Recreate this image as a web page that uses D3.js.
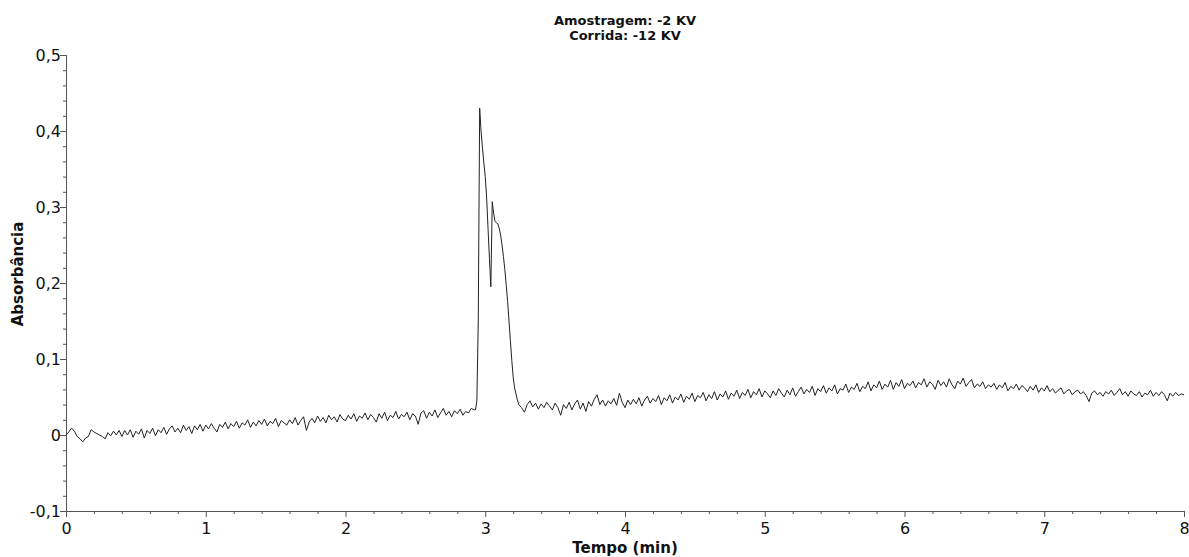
<!DOCTYPE html>
<html lang="pt">
  <head>
    <meta charset="UTF-8" />
    <title>Eletroferograma</title>
    <script src="https://d3js.org/d3.v7.min.js"></script>
    <style>
      body { margin: 0; background: #fff; }
      svg text { font-family: "DejaVu Sans", Verdana, sans-serif; fill: #111; }
    </style>
  </head>
  <body>
    <svg width="1189" height="557"></svg>

    <script>
      // titulo
      const titleLines = ["Amostragem: -2 KV", "Corrida: -12 KV"];
      const xLabel = "Tempo (min)";
      const yLabel = "Absorbância";

      const xTicks = [0, 1, 2, 3, 4, 5, 6, 7, 8];
      const yTicks = [-0.1, 0, 0.1, 0.2, 0.3, 0.4, 0.5];

      // absorbância em mAU
      // linha de base de 0,00 a 2,92 min (passo 0,02)
      const baseA = [
        0,4,9,5,-2,-5,-9,-4,-2,7,
        4,2,0,-2,-5,3,-1,5,0,6,
        -2,6,0,7,-3,5,1,8,-4,6,
        2,9,-1,7,3,10,1,8,12,4,
        9,3,13,6,11,2,12,7,14,5,
        13,8,15,9,4,14,10,17,8,15,
        11,18,9,16,13,20,10,17,12,19,
        14,21,12,18,15,22,11,19,16,13,
        20,15,23,13,19,24,6,17,22,16,
        25,18,23,16,26,20,24,17,27,21,
        19,26,21,28,18,25,22,29,20,27,
        23,17,28,22,30,19,26,23,31,21,
        27,24,30,20,28,25,14,29,32,22,
        30,25,33,23,29,35,26,31,24,32,
        28,34,26,31,29,35,33
      ];

      // pico de 2,93 a 3,24 min (passo 0,01)
      const peak = [
        33,45,150,430,400,378,358,340,312,272,
        232,195,307,292,281,279,278,272,263,250,
        235,218,197,176,150,124,98,76,62,54,
        46,40
      ];

      // linha de base de 3,26 a 8,00 min (passo 0,02)
      const baseB = [
        36,30,40,45,37,42,34,41,36,43,
        38,33,42,36,26,40,35,43,33,41,
        46,34,42,31,44,38,47,53,40,46,
        38,45,41,48,39,55,43,36,46,40,
        47,41,49,38,46,51,42,48,44,52,
        40,49,45,53,42,50,46,54,43,51,
        47,55,44,52,49,56,45,53,48,57,
        46,54,50,58,47,55,51,59,48,56,
        52,60,49,57,53,61,50,58,54,49,
        58,52,61,55,50,59,53,62,51,57,
        63,54,60,56,64,52,61,57,65,55,
        62,58,66,54,61,59,67,56,63,60,
        68,57,64,61,70,58,66,62,71,60,
        67,63,72,60,69,64,73,61,68,65,
        71,62,69,66,74,63,70,67,60,72,
        65,70,63,74,66,61,71,67,75,64,
        69,73,62,67,64,70,61,66,63,68,
        60,66,62,69,58,64,61,67,59,65,
        62,57,64,59,66,56,62,58,65,57,
        61,55,59,62,54,58,60,53,57,59,
        54,57,52,44,55,58,53,56,51,57,
        54,59,52,56,61,53,57,51,58,54,
        52,57,50,55,53,59,51,56,52,57,
        53,45,55,51,56,52,54,53
      ];

      const segments = [
        { start: 0, step: 2, values: baseA },
        { start: 2.93, step: 1, values: peak },
        { start: 3.26, step: 2, values: baseB },
      ];

      const data = [];
      segments.forEach((s) => {
        s.values.forEach((v, i) => {
          data.push({ t: (Math.round(s.start * 100) + i * s.step) / 100, a: v / 1000 });
        });
      });

      const svg = d3.select("svg");

      const x = d3.scaleLinear().domain([0, 8]).range([66, 1184]);
      const y = d3.scaleLinear().domain([-0.1, 0.5]).range([511, 55]);

      const fmtY = (d) => (Math.abs(d) < 1e-9 ? "0" : d.toFixed(1).replace(".", ","));
      const fmtX = d3.format("d");

      const axisColor = "#555";

      // ticks menores
      const xMinor = d3.range(0, 8.0001, 0.2).filter((d) => Math.abs(d - Math.round(d)) > 1e-6);
      const yMinor = d3.range(-0.1, 0.5001, 0.02).filter((d) => Math.abs(d * 10 - Math.round(d * 10)) > 1e-6);

      const gx = svg.append("g").attr("transform", `translate(0,${y(-0.1)})`);
      gx.call(d3.axisBottom(x).tickValues(xMinor).tickSize(3).tickFormat(""));
      gx.append("g").call(
        d3.axisBottom(x).tickValues(xTicks).tickSize(6).tickSizeOuter(0).tickPadding(6).tickFormat(fmtX)
      );

      const gy = svg.append("g").attr("transform", `translate(${x(0)},0)`);
      gy.call(d3.axisLeft(y).tickValues(yMinor).tickSize(3).tickFormat(""));
      gy.append("g").call(
        d3.axisLeft(y).tickValues(yTicks).tickSize(6).tickSizeOuter(0).tickFormat(fmtY)
      );

      svg.selectAll(".domain").attr("stroke", axisColor);
      svg.selectAll(".tick line").attr("stroke", axisColor);
      svg.selectAll(".tick text").attr("font-size", 16).attr("font-family", "DejaVu Sans").attr("fill", "#111");
      gy.selectAll(".tick text").attr("x", -5);

      // curva
      const line = d3.line().x((d) => x(d.t)).y((d) => y(d.a));
      svg.append("path")
        .datum(data)
        .attr("fill", "none")
        .attr("stroke", "#222")
        .attr("stroke-width", 1)
        .attr("stroke-linejoin", "round")
        .attr("d", line);

      // titulos
      svg.append("text")
        .attr("text-anchor", "middle")
        .attr("font-size", 13)
        .attr("font-weight", "bold")
        .selectAll("tspan")
        .data(titleLines)
        .join("tspan")
        .attr("x", 625)
        .attr("y", (d, i) => 25 + i * 15)
        .text((d) => d);

      svg.append("text")
        .attr("x", 625)
        .attr("y", 553)
        .attr("text-anchor", "middle")
        .attr("font-size", 15)
        .attr("font-weight", "bold")
        .text(xLabel);

      svg.append("text")
        .attr("transform", "translate(23,274) rotate(-90)")
        .attr("text-anchor", "middle")
        .attr("font-size", 15)
        .attr("font-weight", "bold")
        .text(yLabel);
    </script>
  </body>
</html>
